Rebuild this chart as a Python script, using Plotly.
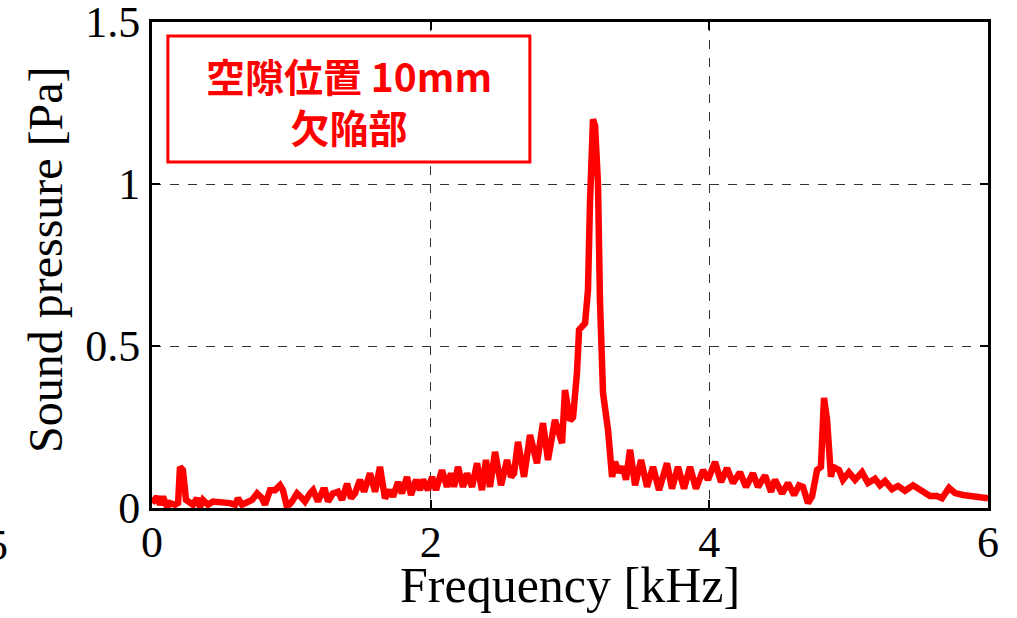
import plotly.graph_objects as go

# Frequency [kHz]
freq_khz = [
    0.000, 0.036, 0.057, 0.079, 0.108, 0.129, 0.165, 0.187, 0.201, 0.222,
    0.244, 0.266, 0.294, 0.323, 0.345, 0.366, 0.402, 0.438, 0.474, 0.510,
    0.560, 0.596, 0.617, 0.646, 0.682, 0.718, 0.754, 0.790, 0.811, 0.847,
    0.883, 0.919, 0.940, 0.969, 1.005, 1.041, 1.077, 1.098, 1.134, 1.156,
    1.191, 1.227, 1.242, 1.263, 1.299, 1.335, 1.364, 1.400, 1.428, 1.457,
    1.493, 1.522, 1.565, 1.601, 1.636, 1.672, 1.708, 1.730, 1.766, 1.794,
    1.830, 1.859, 1.895, 1.923, 1.945, 1.981, 2.010, 2.038, 2.081, 2.117,
    2.146, 2.168, 2.196, 2.232, 2.261, 2.297, 2.333, 2.368, 2.397, 2.426,
    2.462, 2.505, 2.548, 2.577, 2.598, 2.627, 2.670, 2.713, 2.763, 2.806,
    2.842, 2.892, 2.943, 2.964, 3.000, 3.022, 3.050, 3.065, 3.108, 3.129,
    3.144, 3.165, 3.180, 3.201, 3.215, 3.237, 3.273, 3.302, 3.323, 3.352,
    3.381, 3.402, 3.431, 3.467, 3.510, 3.553, 3.596, 3.639, 3.696, 3.732,
    3.775, 3.818, 3.861, 3.904, 3.955, 3.990, 4.041, 4.084, 4.127, 4.170,
    4.220, 4.263, 4.313, 4.349, 4.400, 4.443, 4.471, 4.522, 4.565, 4.608,
    4.644, 4.672, 4.708, 4.737, 4.773, 4.801, 4.823, 4.845, 4.873, 4.888,
    4.931, 4.959, 5.002, 5.046, 5.096, 5.139, 5.189, 5.225, 5.261, 5.311,
    5.354, 5.404, 5.462, 5.512, 5.548, 5.584, 5.634, 5.670, 5.720, 5.763,
    5.821, 5.885, 5.943, 6.000,
]

# Sound pressure [Pa]
pressure_pa = [
    0.015, 0.035, 0.010, 0.035, 0.003, 0.015, 0.010, 0.015, 0.127, 0.117,
    0.025, 0.020, 0.010, 0.030, 0.003, 0.025, 0.010, 0.020, 0.018, 0.020,
    0.015, 0.010, 0.030, 0.010, 0.020, 0.025, 0.045, 0.030, 0.010, 0.055,
    0.055, 0.070, 0.055, 0.003, 0.020, 0.045, 0.030, 0.020, 0.045, 0.055,
    0.020, 0.055, 0.055, 0.020, 0.045, 0.050, 0.025, 0.075, 0.030, 0.045,
    0.087, 0.050, 0.107, 0.050, 0.127, 0.030, 0.055, 0.035, 0.080, 0.045,
    0.096, 0.040, 0.087, 0.055, 0.087, 0.055, 0.096, 0.055, 0.117, 0.065,
    0.107, 0.065, 0.127, 0.065, 0.107, 0.065, 0.138, 0.055, 0.148, 0.065,
    0.173, 0.070, 0.148, 0.096, 0.107, 0.204, 0.096, 0.225, 0.138, 0.262,
    0.148, 0.272, 0.200, 0.364, 0.270, 0.280, 0.417, 0.550, 0.570, 0.673,
    0.950, 1.200, 1.180, 1.000, 0.640, 0.355, 0.240, 0.096, 0.142, 0.110,
    0.127, 0.087, 0.180, 0.070, 0.148, 0.065, 0.127, 0.055, 0.138, 0.060,
    0.127, 0.060, 0.127, 0.060, 0.117, 0.087, 0.142, 0.080, 0.123, 0.077,
    0.110, 0.065, 0.107, 0.065, 0.100, 0.050, 0.087, 0.045, 0.077, 0.040,
    0.070, 0.065, 0.015, 0.035, 0.117, 0.127, 0.340, 0.272, 0.096, 0.127,
    0.117, 0.087, 0.110, 0.087, 0.110, 0.077, 0.090, 0.070, 0.083, 0.058,
    0.068, 0.053, 0.070, 0.055, 0.050, 0.037, 0.037, 0.030, 0.062, 0.046,
    0.040, 0.035, 0.030, 0.030,
]

x_ticks = [0, 2, 4, 6]
y_ticks = [0, 0.5, 1, 1.5]
y_tick_labels = ["0", "0.5", "1", "1.5"]

serif = "Liberation Serif, Times New Roman, serif"

fig = go.Figure()
fig.add_trace(go.Scatter(
    x=freq_khz, y=pressure_pa, mode="lines",
    line=dict(color="#ff0000", width=6.5),
    showlegend=False, hoverinfo="skip",
))

axis_common = dict(
    showline=True, linecolor="black", linewidth=3, mirror="ticks",
    ticks="inside", ticklen=8, tickwidth=2, tickcolor="black",
    showgrid=True, gridcolor="#333333", gridwidth=1, griddash="dash",
    zeroline=False, automargin=False, ticklabeloverflow="allow",
    tickfont=dict(family=serif, size=44, color="black"),
)

fig.update_xaxes(
    range=[0, 6], tickvals=x_ticks, ticktext=[str(v) for v in x_ticks],
    ticklabelstandoff=-7, **axis_common,
)
fig.update_yaxes(
    range=[-0.0001, 1.5002], tickvals=y_ticks, ticktext=y_tick_labels,
    **axis_common,
)

# axis titles
fig.add_annotation(
    xref="paper", yref="paper", x=0.5, y=(508 - 585) / 486,
    xanchor="center", yanchor="middle", text="Frequency [kHz]",
    showarrow=False, font=dict(family=serif, size=50, color="black"),
)
fig.add_annotation(
    xref="paper", yref="paper", x=(45 - 152) / 836, y=(508 - 260) / 486,
    xanchor="center", yanchor="middle", text="Sound pressure [Pa]",
    textangle=-90, showarrow=False,
    font=dict(family=serif, size=48, color="black"),
)

# legend-like annotation box
fig.add_shape(type="rect", xref="paper", yref="paper",
              x0=0.019, x1=0.452, y0=0.712, y1=0.971,
              line=dict(color="#ff0000", width=3), fillcolor="white")
fig.add_annotation(
    xref="paper", yref="paper", x=0.236, y=0.838,
    xanchor="center", yanchor="middle",
    text="<b>空隙位置 10mm</b><br><b>欠陥部</b>", showarrow=False,
    font=dict(family="Noto Sans CJK JP, Noto Sans", size=39, color="#ff0000"),
    align="center",
)

# clipped label at the far left edge of the picture
fig.add_annotation(
    xref="paper", yref="paper", x=(-3 - 152) / 836, y=(508 - 545) / 486,
    xanchor="center", yanchor="middle", text="5",
    showarrow=False, font=dict(family=serif, size=44, color="black"),
)

fig.update_layout(
    width=1017, height=618,
    margin=dict(l=152, r=29, t=22, b=110),
    paper_bgcolor="white", plot_bgcolor="white",
)

fig.write_html(
    "out.html",
    config={"displayModeBar": False},
    post_script="document.body.style.margin='0px';document.body.style.overflow='hidden';",
)
